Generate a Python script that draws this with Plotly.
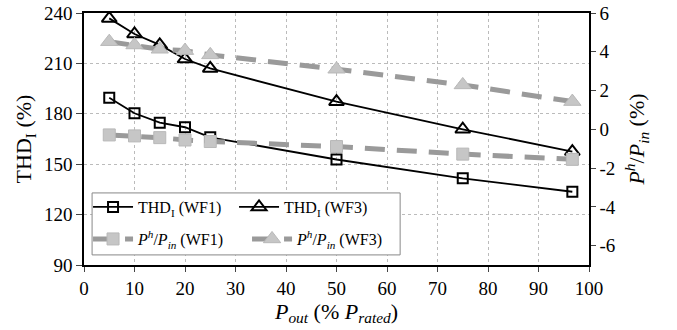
import plotly.graph_objects as go

p_out = [5, 10, 15, 20, 25, 50, 75, 96.7]
thd_wf1 = [189.5, 180.3, 174.7, 172.0, 166.0, 152.8, 141.6, 133.6]
thd_wf3 = [236.8, 227.5, 221.0, 212.6, 207.0, 187.2, 170.8, 157.5]
ph_wf1 = [-0.29, -0.34, -0.43, -0.55, -0.63, -0.89, -1.28, -1.55]
ph_wf3 = [4.52, 4.35, 4.13, 4.06, 3.84, 3.10, 2.29, 1.43]

left_ticks = [90, 120, 150, 180, 210, 240]
right_ticks = [6, 4, 2, 0, -2, -4, -6]
x_ticks = list(range(0, 101, 10))

FONT = "Liberation Serif"
GRAY_LINE = "#9a9a9a"
GRAY_MK = "#c6c6c6"

fig = go.Figure()
fig.add_trace(go.Scatter(
    x=p_out, y=thd_wf1, mode="lines+markers", name="THD<sub>I</sub> (WF1)",
    legend="legend",
    line=dict(color="black", width=1.8),
    marker=dict(symbol="square-open", size=10, color="black", line=dict(width=2)),
))
fig.add_trace(go.Scatter(
    x=p_out, y=thd_wf3, mode="lines+markers", name="THD<sub>I</sub> (WF3)",
    legend="legend",
    line=dict(color="black", width=1.8),
    marker=dict(symbol="triangle-up-open", size=13, color="black", line=dict(width=2)),
))
fig.add_trace(go.Scatter(
    x=p_out, y=ph_wf1, mode="lines+markers", name="<i>P<sup>h</sup></i>/<i>P<sub>in</sub></i> (WF1)",
    yaxis="y2", legend="legend2",
    line=dict(color=GRAY_LINE, width=5, dash="20px,12px"),
    marker=dict(symbol="square", size=12, color=GRAY_MK, line=dict(color="#b8b8b8", width=1)),
))
fig.add_trace(go.Scatter(
    x=p_out, y=ph_wf3, mode="lines+markers", name="<i>P<sup>h</sup></i>/<i>P<sub>in</sub></i> (WF3)",
    yaxis="y2", legend="legend2",
    line=dict(color=GRAY_LINE, width=5, dash="20px,12px"),
    marker=dict(symbol="triangle-up", size=15, color=GRAY_MK, line=dict(color="#b8b8b8", width=1)),
))

leg_common = dict(
    orientation="h", xanchor="left", yanchor="middle",
    bgcolor="rgba(0,0,0,0)", borderwidth=0,
    font=dict(family=FONT, size=16, color="black"), itemwidth=40,
)

fig.update_layout(
    width=677, height=330,
    margin=dict(l=84, r=88, t=13, b=65, autoexpand=False),
    paper_bgcolor="white", plot_bgcolor="white",
    font=dict(family=FONT, size=18, color="black"),
    showlegend=True,
    legend=dict(x=0.008, y=0.23, entrywidth=91, **leg_common),
    legend2=dict(x=0.008, y=0.103, entrywidth=104, **leg_common),
    shapes=[dict(type="rect", xref="paper", yref="paper",
                 x0=0.016, x1=0.626, y0=0.04, y1=0.286,
                 line=dict(color="#888888", width=1), fillcolor="white", layer="above")],
    xaxis=dict(
        range=[0, 100], tickvals=x_ticks, ticks="outside", ticklen=5,
        showline=True, linecolor="black", linewidth=1.5, mirror=True,
        showgrid=True, gridcolor="#bbbbbb", griddash="dot", gridwidth=1,
        zeroline=False, automargin=False,
        title=dict(text="<i>P<sub>out</sub></i> (% <i>P<sub>rated</sub></i>)",
                   font=dict(family=FONT, size=22), standoff=2),
        tickfont=dict(family=FONT, size=19),
    ),
    yaxis=dict(
        range=[90, 240], tickvals=left_ticks, ticks="outside", ticklen=6,
        showline=True, linecolor="black", linewidth=1.5,
        showgrid=True, gridcolor="#bbbbbb", griddash="dot", gridwidth=1,
        zeroline=False, automargin=False,
        title=dict(text="THD<sub>I</sub> (%)", font=dict(family=FONT, size=22), standoff=6),
        tickfont=dict(family=FONT, size=19),
    ),
    yaxis2=dict(
        range=[-7, 6], tickvals=right_ticks, ticktext=[str(v) for v in right_ticks],
        overlaying="y", side="right", ticks="outside", ticklen=5,
        showline=True, linecolor="black", linewidth=1.5,
        showgrid=False, zeroline=False, automargin=False,
        title=dict(text="<i>P<sup>h</sup></i>/<i>P<sub>in</sub></i> (%)",
                   font=dict(family=FONT, size=22), standoff=14),
        tickfont=dict(family=FONT, size=19),
    ),
    yaxis3=dict(
        range=[-7, 6], tickvals=right_ticks, overlaying="y", side="right",
        ticks="inside", ticklen=5, tickcolor="black", showticklabels=False,
        showline=False, showgrid=False, zeroline=False, automargin=False,
    ),
)

fig.write_html("out.html", config={"displayModeBar": False},
               post_script="document.body.style.margin='0';")
